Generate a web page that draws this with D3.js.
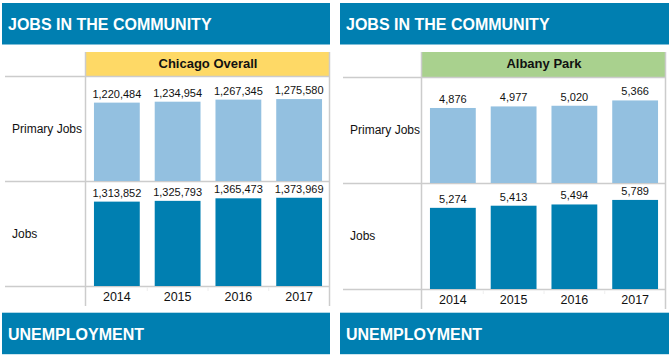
<!DOCTYPE html>
<html>
<head>
<meta charset="utf-8">
<script src="https://cdn.jsdelivr.net/npm/d3@7"></script>
<style>
  body { margin: 0; background: #fff; }
  text { font-family: "Liberation Sans", Arial, sans-serif; }
</style>
</head>
<body>
<svg id="mainsvg" width="669" height="360"></svg>
<script>
// data
const years = ["2014", "2015", "2016", "2017"];
const rowLabels = ["Primary Jobs", "Jobs"];
const chicagoPrimary = [1220484, 1234954, 1267345, 1275580];
const chicagoJobs = [1313852, 1325793, 1365473, 1373969];
const albanyPrimary = [4876, 4977, 5020, 5366];
const albanyJobs = [5274, 5413, 5494, 5789];

const blue = "#007fb1";
const lightBlue = "#93c0e0";
const grid = "#cccccc";

const svg = d3.select("#mainsvg");
const fmt = d3.format(",");

// one panel = header, title cell, two bar rows, year row, next header
function drawPanel(p) {
    const g = svg.append("g");

    // top header
    g.append("rect").attr("x", p.left).attr("y", 3)
        .attr("width", p.right - p.left).attr("height", 41.5).attr("fill", blue);
    g.append("text").text("JOBS IN THE COMMUNITY")
        .attr("x", p.left + 6).attr("y", 30)
        .attr("fill", "#fff").attr("font-weight", "bold").attr("font-size", "16px");

    // title cell
    g.append("rect").attr("x", p.plotLeft).attr("y", 52)
        .attr("width", p.plotRight - p.plotLeft).attr("height", p.rows[0] - 52)
        .attr("fill", p.titleColor);
    g.append("text").text(p.title)
        .attr("x", (p.plotLeft + p.plotRight) / 2).attr("y", 68)
        .attr("text-anchor", "middle").attr("font-weight", "bold")
        .attr("font-size", "13px").attr("fill", "#111");

    // grid lines
    [p.rows[0], p.rows[1], p.rows[2]].forEach(y => {
        g.append("line").attr("x1", p.left + 3).attr("x2", p.plotRight)
            .attr("y1", y + 0.5).attr("y2", y + 0.5)
            .attr("stroke", grid).attr("stroke-width", 1.5);
    });
    [p.plotLeft, p.plotRight].forEach(x => {
        g.append("line").attr("x1", x - 0.5).attr("x2", x - 0.5)
            .attr("y1", 52).attr("y2", p.rows[3])
            .attr("stroke", grid).attr("stroke-width", 1.5);
    });

    const xScale = d3.scaleBand()
        .domain(years)
        .range([p.plotLeft, p.plotRight])
        .paddingInner(0.246)
        .paddingOuter(0.131);

    const all = p.series.flat();
    const rowH = p.rows[1] - p.rows[0];
    const yScale = d3.scaleLinear()
        .domain([0, d3.max(all) * 1.19])
        .range([0, rowH]);

    p.series.forEach((vals, i) => {
        const bottom = p.rows[i + 1];
        const color = i === 0 ? lightBlue : blue;

        g.append("text").text(rowLabels[i])
            .attr("x", p.left + 10)
            .attr("y", (p.rows[i] + bottom) / 2)
            .attr("dy", "0.35em")
            .attr("font-size", "12px").attr("fill", "#111");

        vals.forEach((v, j) => {
            g.append("rect")
                .attr("x", xScale(years[j]))
                .attr("y", bottom - yScale(v))
                .attr("width", xScale.bandwidth())
                .attr("height", yScale(v))
                .attr("fill", color);
            g.append("text").text(fmt(v))
                .attr("x", xScale(years[j]) + xScale.bandwidth() / 2)
                .attr("y", bottom - yScale(v) - 5)
                .attr("text-anchor", "middle")
                .attr("font-size", "11px").attr("fill", "#111");
        });
    });

    // year axis row
    const xAxis = d3.axisBottom(xScale).tickSize(0).tickPadding(0);
    const ax = g.append("g")
        .attr("transform", `translate(0, ${(p.rows[2] + p.rows[3]) / 2})`)
        .call(xAxis);
    ax.select(".domain").remove();
    ax.selectAll(".tick text")
        .attr("dy", "0.35em").attr("y", 1)
        .attr("font-size", "12.5px").attr("fill", "#111")
        .attr("font-family", "'Liberation Sans', Arial, sans-serif");

    // faint separators between year cells
    years.slice(1).forEach(yr => {
        const x = xScale(yr) - xScale.step() * xScale.paddingInner() / 2;
        g.append("line").attr("x1", x).attr("x2", x)
            .attr("y1", p.rows[2] + 1).attr("y2", p.rows[2] + 5)
            .attr("stroke", "#eeeeee");
    });

    // next section header
    g.append("rect").attr("x", p.left).attr("y", 312.7)
        .attr("width", p.right - p.left).attr("height", 41.5).attr("fill", blue);
    g.append("text").text("UNEMPLOYMENT")
        .attr("x", p.left + 6).attr("y", 340)
        .attr("fill", "#fff").attr("font-weight", "bold").attr("font-size", "16px");
}

drawPanel({
    left: 2, right: 330, plotLeft: 86, plotRight: 330,
    rows: [76, 181, 286, 306],
    title: "Chicago Overall", titleColor: "#fed966",
    series: [chicagoPrimary, chicagoJobs]
});

drawPanel({
    left: 340, right: 669, plotLeft: 422, plotRight: 666,
    rows: [77, 183, 289, 309],
    title: "Albany Park", titleColor: "#a9d18e",
    series: [albanyPrimary, albanyJobs]
});
</script>
</body>
</html>
